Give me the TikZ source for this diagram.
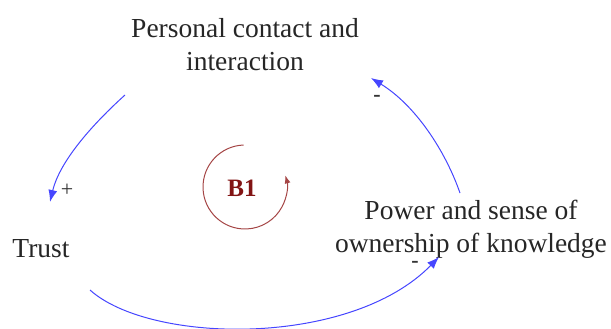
\documentclass[tikz,border=0pt]{standalone}
\usepackage{fontspec}
\setmainfont{Liberation Serif}
\usetikzlibrary{arrows.meta,calc}
\definecolor{linkblue}{RGB}{70,70,255}
\definecolor{loopred}{RGB}{165,70,70}
\definecolor{labred}{RGB}{130,20,20}
\begin{document}
\begin{tikzpicture}[x=1pt,y=1pt,
  var/.style={align=center,inner sep=0pt,font=\fontsize{27.5}{33}\selectfont,text=black!85},
  link/.style={draw=linkblue,line width=1pt,-{Latex[length=12pt,width=9pt]}},
  pol/.style={inner sep=0pt,font=\bfseries\fontsize{22}{24}\selectfont,text=black!80,text height=2pt,text depth=0pt}]
\useasboundingbox (0,0) rectangle (611,-329);
\node[var] (pc) at (245,-45) {Personal contact and\\interaction};
\node[var] (tr) at (41,-249) {Trust};
\node[var] (pw) at (471,-229) {Power and sense of\\ownership of knowledge};
\node[font=\bfseries\fontsize{25}{28}\selectfont,text=labred,inner sep=0pt] (b1) at (242,-188) {B1};
\coordinate (s1) at (125,-95);
\coordinate (e1) at (50,-202);
\coordinate (s2) at (90,-290);
\coordinate (e2) at (439,-257);
\coordinate (s3) at (460,-193);
\coordinate (e3) at (371,-78);
\draw[link] (s1) .. controls (95,-122) and (60,-160) .. (e1);
\draw[link] (s2) .. controls (150,-344) and (350,-348) .. (e2);
\draw[link] (s3) .. controls (445,-150) and (415,-105) .. (e3);
\node[inner sep=0pt,font=\fontsize{22}{24}\selectfont,text=black!80] (p1) at (67,-190) {+};
\node[pol] (p2) at (377,-101) {-};
\node[pol] (p3) at (415,-266) {-};
\coordinate (lc) at (245,-187);
\draw[loopred,line width=1pt,-{Latex[length=8pt,width=6pt]}] ($(lc)+(92:42)$) arc[start angle=92,end angle=376,radius=42];
\end{tikzpicture}
\end{document}
